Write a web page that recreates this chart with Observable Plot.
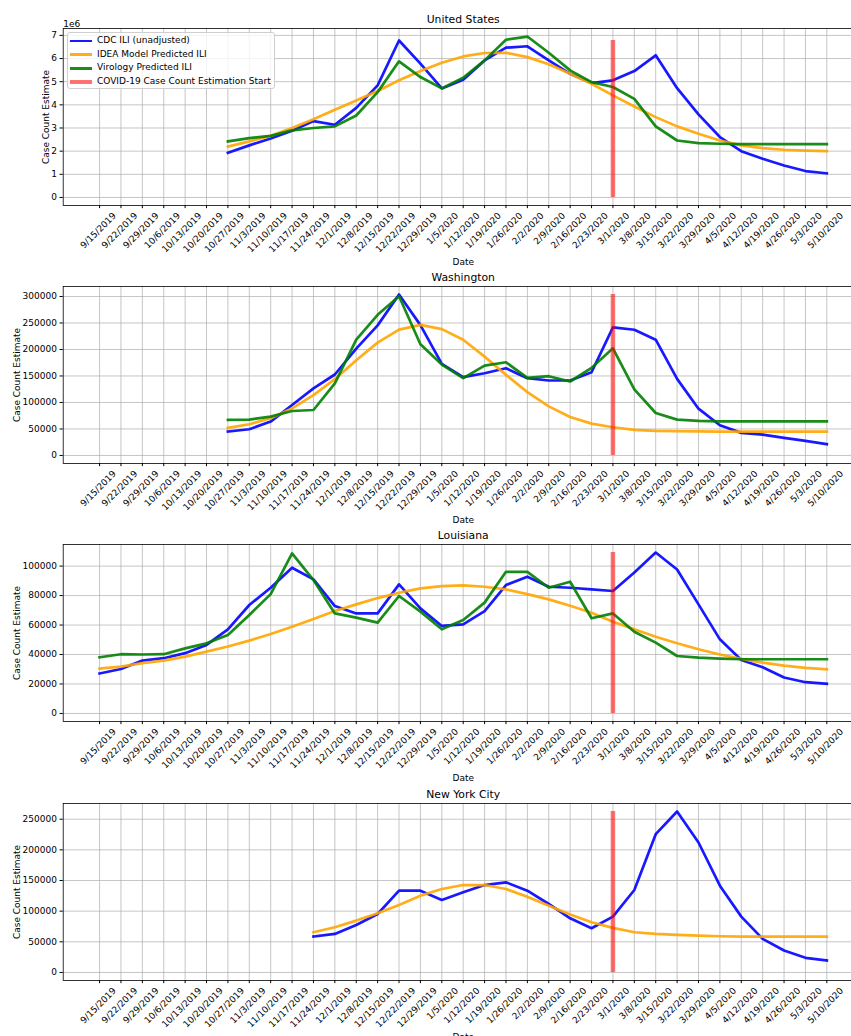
<!DOCTYPE html>
<html><head><meta charset="utf-8">
<script src="https://cdn.jsdelivr.net/npm/d3@7"></script>
<script src="https://cdn.jsdelivr.net/npm/@observablehq/plot@0.6"></script>
<style>
html,body{margin:0;padding:0;background:#fff;overflow:hidden;width:851px;height:1036px;}
#root{position:relative;width:851px;height:1036px;overflow:hidden;font-family:"DejaVu Sans",sans-serif;}
.panel{position:absolute;left:0;}
.legend{position:absolute;left:67px;top:32px;width:208px;height:57px;box-sizing:border-box;border:1px solid #cfcfcf;border-radius:3px;background:rgba(255,255,255,0.8);font-family:"DejaVu Sans",sans-serif;font-size:9px;color:#000;}
.legend .row{position:absolute;left:0;height:0;}
.legend .handle{position:absolute;left:2px;width:22px;}
.legend .lab{position:absolute;left:29px;white-space:nowrap;line-height:11px;top:-6px;}
</style></head><body><div id="root"></div><script>
const dates = ["9/15/2019","9/22/2019","9/29/2019","10/6/2019","10/13/2019","10/20/2019","10/27/2019","11/3/2019","11/10/2019","11/17/2019","11/24/2019","12/1/2019","12/8/2019","12/15/2019","12/22/2019","12/29/2019","1/5/2020","1/12/2020","1/19/2020","1/26/2020","2/2/2020","2/9/2020","2/16/2020","2/23/2020","3/1/2020","3/8/2020","3/15/2020","3/22/2020","3/29/2020","4/5/2020","4/12/2020","4/19/2020","4/26/2020","5/3/2020","5/10/2020"];
const estimationStart = "3/1/2020";

// United States (starts 10/27/2019)
const usStart = "10/27/2019";
const usCdc = [1.93e6,2.25e6,2.55e6,2.88e6,3.30e6,3.14e6,3.87e6,4.84e6,6.78e6,5.78e6,4.71e6,5.08e6,5.92e6,6.47e6,6.53e6,5.92e6,5.34e6,4.94e6,5.06e6,5.46e6,6.14e6,4.72e6,3.59e6,2.61e6,2.0e6,1.67e6,1.38e6,1.14e6,1.04e6];
const usIdea = [2.20e6,2.42e6,2.66e6,3.0e6,3.38e6,3.79e6,4.19e6,4.6e6,5.06e6,5.46e6,5.82e6,6.09e6,6.24e6,6.25e6,6.06e6,5.75e6,5.34e6,4.91e6,4.41e6,3.93e6,3.47e6,3.07e6,2.75e6,2.46e6,2.25e6,2.13e6,2.06e6,2.02e6,2.0e6];
const usVirology = [2.42e6,2.56e6,2.66e6,2.9e6,3.0e6,3.07e6,3.54e6,4.55e6,5.88e6,5.2e6,4.71e6,5.17e6,5.92e6,6.81e6,6.95e6,6.25e6,5.49e6,4.98e6,4.77e6,4.26e6,3.07e6,2.46e6,2.35e6,2.32e6,2.30e6,2.30e6,2.30e6,2.30e6,2.30e6];
const usTicks = [0,1e6,2e6,3e6,4e6,5e6,6e6,7e6];

// Washington (starts 10/27/2019)
const waStart = "10/27/2019";
const waCdc = [45100,49500,63900,95200,126500,152800,201700,245500,303700,246000,173000,147700,155200,164600,145900,141500,141500,157100,241600,237300,218500,144600,88300,57000,42600,39400,33200,27500,21300];
const waIdea = [52000,58900,70100,88900,114000,144000,179700,212900,237400,246500,238500,218500,186500,152100,119600,92600,72600,60100,53200,48200,46300,45700,45300,45100,45100,45100,45100,45100,45100];
const waVirology = [67000,67600,73300,83900,85800,135900,218600,265500,300600,210000,171500,145900,169600,175900,146500,149600,139600,165300,202200,124600,80100,67600,65100,64500,64500,64500,64500,64500,64500];
const waTicks = [0,50000,100000,150000,200000,250000,300000];

// Louisiana (starts 9/15/2019)
const laStart = "9/15/2019";
const laCdc = [27100,30200,35900,37500,40900,46500,57100,73600,85300,98900,91000,72900,67900,67900,87600,71300,59400,60500,69500,87100,92800,86000,85300,84200,83100,95700,109200,97700,74000,50300,36300,31400,24400,21200,20100];
const laIdea = [30500,31800,34100,35900,38600,42000,45400,49400,53900,58900,64100,69500,74000,78300,81900,84900,86400,86900,86000,84200,81000,77400,73100,68400,62300,57100,52100,47600,43600,40000,37000,34500,32500,30900,30000];
const laVirology = [38100,40200,40000,40200,44200,47600,53300,66800,81000,108600,90500,67900,65000,61600,79700,69100,57100,63400,75200,96100,96100,85300,89400,64600,67900,55500,48100,39000,37900,37200,36800,36800,36800,36800,36800];
const laTicks = [0,20000,40000,60000,80000,100000];

// New York City (starts 11/24/2019)
const nycStart = "11/24/2019";
const nycCdc = [58600,62900,77500,95400,133400,133400,118200,130700,142600,147000,133400,111700,88400,72100,91100,134500,225600,262500,212000,141500,91100,54800,35800,23900,19500];
const nycIdea = [65600,73800,84600,96500,110100,125300,136100,142600,142600,136100,123600,109000,94400,81900,72700,65600,62900,61300,60200,59100,58600,58600,58600,58600,58600];
const nycTicks = [0,50000,100000,150000,200000,250000];

const seriesNames = ["CDC ILI (unadjusted)","IDEA Model Predicted ILI","Virology Predicted ILI","COVID-19 Case Count Estimation Start"];
const seriesColors = ["#0000ff","#ffa500","#008000","#ff0000"];

const panels = [
  {title:"United States", start:usStart, series:[usCdc,usIdea,usVirology], ticks:usTicks, format:d=>String(d/1e6), offset:"1e6", ylabelDx:-17.4, top:0},
  {title:"Washington", start:waStart, series:[waCdc,waIdea,waVirology], ticks:waTicks, format:d=>String(d), offset:null, ylabelDx:-46, top:258.2},
  {title:"Louisiana", start:laStart, series:[laCdc,laIdea,laVirology], ticks:laTicks, format:d=>String(d), offset:null, ylabelDx:-46, top:516.4},
  {title:"New York City", start:nycStart, series:[nycCdc,nycIdea], ticks:nycTicks, format:d=>String(d), offset:null, ylabelDx:-46, top:774.6}
];

const root = document.getElementById("root");
const grid = {stroke:"#b0b0b0", strokeOpacity:1, strokeWidth:0.72};

for (const p of panels) {
  const s0 = dates.indexOf(p.start);
  const vmax = d3.max(p.series, s => d3.max(s));
  const cdcMax = d3.max(p.series[0]);
  const pad = vmax * 0.05;
  const lineMarks = p.series.map((vals, k) => Plot.lineY(
    vals.map((v, j) => ({date: dates[s0 + j], value: v})),
    {x:"date", y:"value", stroke: seriesColors[k], strokeOpacity:0.9, strokeWidth:2.7, strokeLinejoin:"round", strokeLinecap:"square"}
  ));
  const marks = [
    Plot.gridY(p.ticks, grid),
    Plot.gridX(dates, grid),
    ...lineMarks,
    Plot.ruleX([{date: estimationStart, top: cdcMax}], {x:"date", y1:d=>0, y2:"top", stroke: seriesColors[3], strokeOpacity:0.55, strokeWidth:4.5}),
    Plot.frame({stroke:"#000", strokeWidth:0.8}),
    Plot.axisY(p.ticks, {tickSize:3.15, tickPadding:3.15, tickFormat:p.format, fontSize:9, label:null}),
    Plot.axisX(dates, {tickSize:3.15, tickFormat:()=>"", label:null}),
    Plot.text(dates, {x:d=>d, text:d=>d, frameAnchor:"bottom", rotate:-45, textAnchor:"end", lineAnchor:"top", dx:12.5, dy:6.3, fontSize:9}),
    Plot.text(["Date"], {frameAnchor:"bottom", lineAnchor:"top", dy:53, fontSize:9}),
    Plot.text([p.title], {frameAnchor:"top", lineAnchor:"bottom", dy:-5.4, fontSize:10.8}),
    Plot.text(["Case Count Estimate"], {frameAnchor:"left", rotate:-90, textAnchor:"middle", lineAnchor:"middle", dx:p.ylabelDx, fontSize:9})
  ];
  if (p.offset) marks.push(Plot.text([p.offset], {frameAnchor:"top-left", textAnchor:"start", lineAnchor:"bottom", dy:-2, fontSize:9}));
  const svg = Plot.plot({
    width:880, height:258, marginLeft:62.7, marginRight:17.3, marginTop:28, marginBottom:53,
    style:{fontFamily:"DejaVu Sans", fontSize:"9px", background:"transparent", overflow:"visible", maxWidth:"none", color:"#000"},
    x:{type:"point", domain:dates, padding:1.7, round:false},
    y:{domain:[-pad, vmax + pad]},
    marks
  });
  svg.classList.add("panel");
  svg.style.top = p.top + "px";
  root.appendChild(svg);
}

// legend
const legend = document.createElement("div");
legend.className = "legend";
const rowTops = [8, 21.7, 35.3, 49];
seriesNames.forEach((name, k) => {
  const row = document.createElement("div");
  row.className = "row";
  row.style.top = rowTops[k] + "px";
  const h = document.createElement("div");
  h.className = "handle";
  const thick = k === 3 ? 4.5 : 2.7;
  h.style.height = thick + "px";
  h.style.top = (-thick/2) + "px";
  h.style.background = seriesColors[k];
  h.style.opacity = k === 3 ? 0.55 : 0.9;
  const t = document.createElement("div");
  t.className = "lab";
  t.textContent = name;
  row.appendChild(h); row.appendChild(t);
  legend.appendChild(row);
});
root.appendChild(legend);
</script></body></html>
